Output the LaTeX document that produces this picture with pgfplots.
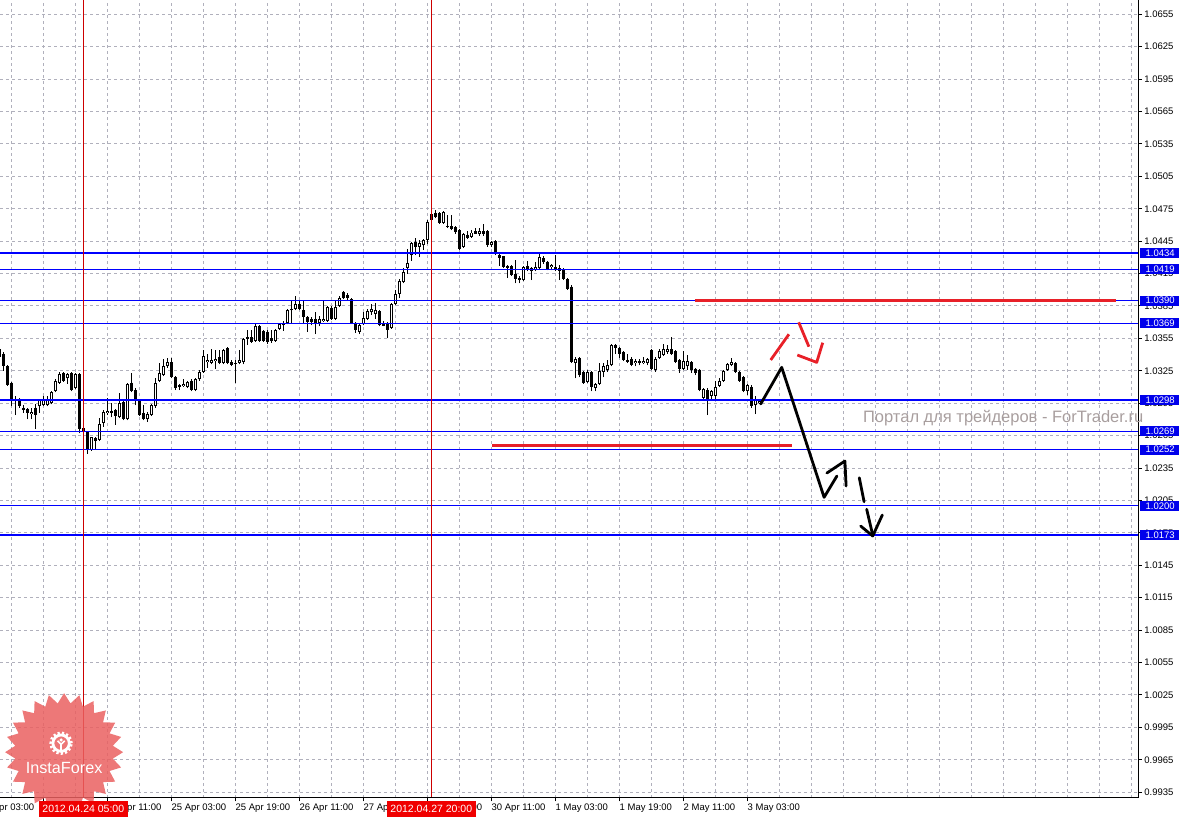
\documentclass[border=0pt]{standalone}
\usepackage{pgfplots}
\pgfplotsset{compat=1.18}
\usepackage{pgfplotstable}
\usepackage{fontspec}
\setmainfont{Liberation Sans}
\usetikzlibrary{shapes.geometric}

\definecolor{mtgrid}{RGB}{176,176,188}
\definecolor{mtblue}{RGB}{0,0,235}
\definecolor{lvlblue}{RGB}{0,0,255}
\definecolor{mtred}{RGB}{205,0,0}
\definecolor{boxred}{RGB}{240,0,0}
\definecolor{penred}{RGB}{232,32,40}
\definecolor{wmark}{RGB}{168,158,158}
\definecolor{logored}{RGB}{234,96,96}

% hourly bars: bar index, open, high, low, close
\pgfplotstableread{
b o h l c
-1 1.0345 1.0346 1.0336 1.0338
0 1.0341 1.0342 1.0325 1.0329
1 1.0329 1.0330 1.0311 1.0312
2 1.0314 1.0315 1.0292 1.0299
3 1.0299 1.0302 1.0284 1.0298
4 1.0299 1.0300 1.0291 1.0292
5 1.0291 1.0293 1.0286 1.0289
6 1.0290 1.0291 1.0280 1.0286
7 1.0285 1.0291 1.0280 1.0287
8 1.0291 1.0294 1.0271 1.0284
9 1.0292 1.0299 1.0286 1.0298
10 1.0293 1.0302 1.0292 1.0298
11 1.0293 1.0302 1.0292 1.0298
12 1.0295 1.0306 1.0294 1.0305
13 1.0306 1.0317 1.0305 1.0316
14 1.0314 1.0324 1.0313 1.0322
15 1.0323 1.0324 1.0315 1.0316
16 1.0318 1.0323 1.0313 1.0322
17 1.0323 1.0324 1.0306 1.0307
18 1.0309 1.0323 1.0308 1.0322
19 1.0322 1.0323 1.0267 1.0271
20 1.0272 1.0274 1.0250 1.0269
21 1.0268 1.0269 1.0248 1.0252
22 1.0252 1.0264 1.0251 1.0264
23 1.0263 1.0264 1.0252 1.0260
24 1.0261 1.0281 1.0260 1.0276
25 1.0277 1.0289 1.0273 1.0287
26 1.0286 1.0300 1.0284 1.0288
27 1.0288 1.0295 1.0282 1.0286
28 1.0289 1.0290 1.0275 1.0283
29 1.0282 1.0304 1.0281 1.0295
30 1.0296 1.0298 1.0279 1.0280
31 1.0280 1.0314 1.0279 1.0313
32 1.0314 1.0323 1.0305 1.0306
33 1.0307 1.0309 1.0293 1.0297
34 1.0297 1.0298 1.0283 1.0284
35 1.0286 1.0293 1.0279 1.0280
36 1.0280 1.0287 1.0278 1.0285
37 1.0284 1.0294 1.0283 1.0293
38 1.0292 1.0318 1.0291 1.0314
39 1.0316 1.0332 1.0315 1.0323
40 1.0321 1.0336 1.0320 1.0329
41 1.0329 1.0337 1.0328 1.0333
42 1.0333 1.0337 1.0318 1.0319
43 1.0319 1.0320 1.0307 1.0309
44 1.0312 1.0313 1.0307 1.0310
45 1.0311 1.0317 1.0310 1.0313
46 1.0310 1.0316 1.0309 1.0315
47 1.0316 1.0317 1.0306 1.0307
48 1.0307 1.0318 1.0306 1.0317
49 1.0317 1.0326 1.0316 1.0324
50 1.0324 1.0344 1.0323 1.0339
51 1.0333 1.0341 1.0328 1.0335
52 1.0332 1.0345 1.0331 1.0335
53 1.0334 1.0344 1.0327 1.0336
54 1.0338 1.0344 1.0331 1.0332
55 1.0332 1.0345 1.0331 1.0344
56 1.0346 1.0347 1.0331 1.0332
57 1.0333 1.0335 1.0329 1.0330
58 1.0332 1.0335 1.0314 1.0331
59 1.0332 1.0344 1.0331 1.0335
60 1.0333 1.0355 1.0331 1.0354
61 1.0356 1.0363 1.0349 1.0354
62 1.0356 1.0363 1.0351 1.0352
63 1.0353 1.0369 1.0352 1.0366
64 1.0366 1.0367 1.0352 1.0353
65 1.0362 1.0363 1.0352 1.0353
66 1.0361 1.0363 1.0350 1.0352
67 1.0355 1.0363 1.0351 1.0353
68 1.0353 1.0364 1.0352 1.0363
69 1.0364 1.0369 1.0363 1.0368
70 1.0367 1.0371 1.0362 1.0368
71 1.0369 1.0382 1.0368 1.0381
72 1.0381 1.0390 1.0369 1.0382
73 1.0382 1.0394 1.0381 1.0387
74 1.0387 1.0390 1.0381 1.0382
75 1.0381 1.0390 1.0369 1.0375
76 1.0375 1.0376 1.0361 1.0370
77 1.0373 1.0375 1.0367 1.0370
78 1.0373 1.0379 1.0359 1.0368
79 1.0369 1.0376 1.0366 1.0373
80 1.0371 1.0390 1.0370 1.0373
81 1.0371 1.0385 1.0370 1.0384
82 1.0383 1.0385 1.0372 1.0373
83 1.0373 1.0390 1.0372 1.0384
84 1.0385 1.0394 1.0384 1.0392
85 1.0398 1.0399 1.0391 1.0392
86 1.0395 1.0397 1.0390 1.0392
87 1.0391 1.0392 1.0369 1.0369
88 1.0369 1.0370 1.0360 1.0363
89 1.0361 1.0369 1.0359 1.0367
90 1.0368 1.0379 1.0367 1.0374
91 1.0373 1.0382 1.0372 1.0380
92 1.0379 1.0387 1.0377 1.0382
93 1.0378 1.0388 1.0373 1.0381
94 1.0380 1.0381 1.0366 1.0367
95 1.0369 1.0371 1.0366 1.0366
96 1.0369 1.0370 1.0355 1.0363
97 1.0365 1.0388 1.0364 1.0387
98 1.0387 1.0400 1.0386 1.0396
99 1.0396 1.0410 1.0392 1.0408
100 1.0407 1.0420 1.0406 1.0416
101 1.0420 1.0438 1.0415 1.0425
102 1.0432 1.0444 1.0427 1.0443
103 1.0444 1.0448 1.0432 1.0440
104 1.0440 1.0446 1.0430 1.0443
105 1.0441 1.0447 1.0437 1.0446
106 1.0446 1.0465 1.0442 1.0463
107 1.0465 1.0478 1.0464 1.0470
108 1.0471 1.0474 1.0466 1.0467
109 1.0471 1.0472 1.0461 1.0462
110 1.0462 1.0473 1.0461 1.0472
111 1.0459 1.0469 1.0457 1.0458
112 1.0459 1.0469 1.0455 1.0456
113 1.0458 1.0459 1.0452 1.0453
114 1.0455 1.0456 1.0437 1.0438
115 1.0440 1.0453 1.0439 1.0452
116 1.0451 1.0454 1.0447 1.0448
117 1.0449 1.0455 1.0448 1.0453
118 1.0454 1.0457 1.0452 1.0452
119 1.0452 1.0457 1.0450 1.0454
120 1.0454 1.0461 1.0450 1.0452
121 1.0454 1.0455 1.0440 1.0441
122 1.0441 1.0445 1.0440 1.0444
123 1.0445 1.0446 1.0432 1.0433
124 1.0432 1.0433 1.0422 1.0429
125 1.0431 1.0431 1.0420 1.0421
126 1.0422 1.0423 1.0411 1.0420
127 1.0422 1.0423 1.0413 1.0414
128 1.0415 1.0428 1.0406 1.0410
129 1.0411 1.0413 1.0406 1.0409
130 1.0409 1.0422 1.0408 1.0421
131 1.0422 1.0427 1.0417 1.0418
132 1.0417 1.0421 1.0409 1.0420
133 1.0418 1.0426 1.0417 1.0421
134 1.0420 1.0434 1.0419 1.0430
135 1.0429 1.0431 1.0424 1.0426
136 1.0426 1.0427 1.0418 1.0419
137 1.0421 1.0424 1.0418 1.0423
138 1.0421 1.0432 1.0417 1.0418
139 1.0420 1.0423 1.0409 1.0417
140 1.0419 1.0420 1.0409 1.0410
141 1.0410 1.0411 1.0400 1.0401
142 1.0403 1.0404 1.0332 1.0333
143 1.0332 1.0338 1.0318 1.0336
144 1.0337 1.0338 1.0319 1.0321
145 1.0324 1.0325 1.0313 1.0314
146 1.0315 1.0326 1.0314 1.0324
147 1.0324 1.0325 1.0306 1.0310
148 1.0309 1.0314 1.0306 1.0313
149 1.0313 1.0332 1.0312 1.0325
150 1.0324 1.0332 1.0319 1.0329
151 1.0326 1.0335 1.0324 1.0330
152 1.0330 1.0350 1.0329 1.0349
153 1.0349 1.0350 1.0341 1.0346
154 1.0346 1.0347 1.0337 1.0341
155 1.0342 1.0343 1.0334 1.0335
156 1.0335 1.0341 1.0332 1.0333
157 1.0336 1.0338 1.0329 1.0330
158 1.0332 1.0336 1.0329 1.0334
159 1.0334 1.0336 1.0330 1.0332
160 1.0332 1.0338 1.0331 1.0334
161 1.0332 1.0337 1.0330 1.0336
162 1.0344 1.0345 1.0326 1.0327
163 1.0326 1.0338 1.0324 1.0336
164 1.0337 1.0345 1.0336 1.0343
165 1.0340 1.0350 1.0339 1.0345
166 1.0342 1.0349 1.0341 1.0345
167 1.0345 1.0356 1.0340 1.0341
168 1.0343 1.0344 1.0332 1.0333
169 1.0335 1.0336 1.0323 1.0327
170 1.0327 1.0343 1.0326 1.0334
171 1.0329 1.0340 1.0326 1.0334
172 1.0333 1.0334 1.0323 1.0326
173 1.0327 1.0328 1.0321 1.0323
174 1.0326 1.0327 1.0306 1.0307
175 1.0300 1.0309 1.0298 1.0308
176 1.0307 1.0309 1.0284 1.0299
177 1.0302 1.0307 1.0299 1.0306
178 1.0302 1.0316 1.0299 1.0310
179 1.0311 1.0318 1.0310 1.0316
180 1.0316 1.0326 1.0315 1.0325
181 1.0326 1.0332 1.0325 1.0331
182 1.0330 1.0337 1.0329 1.0333
183 1.0332 1.0333 1.0323 1.0324
184 1.0324 1.0325 1.0315 1.0316
185 1.0319 1.0320 1.0305 1.0306
186 1.0306 1.0313 1.0303 1.0312
187 1.0310 1.0312 1.0291 1.0292
188 1.0293 1.0302 1.0285 1.0298
189 1.0295 1.0299 1.0294 1.0297
}\candles

\begin{document}
\begin{tikzpicture}
\begin{axis}[
  at={(0,0)}, anchor=north west,
  scale only axis, width=569.25pt, height=399pt,
  xmin=-0.825, xmax=283.8, ymin=0.99296, ymax=1.06682,
  clip=false,
  axis line style={draw=none},
  tick align=outside,
  major tick length=1.75pt, minor tick length=0pt,
  tick style={black, line width=0.5pt},
  xtick={10,26,...,186},
  xticklabels={23 Apr 19:00,24 Apr 11:00,25 Apr 03:00,25 Apr 19:00,26 Apr 11:00,27 Apr 03:00,27 Apr 19:00,30 Apr 11:00,1 May 03:00,1 May 19:00,2 May 11:00,3 May 03:00},
  minor xtick={2,10,...,282},
  ytick={0.9935,0.9965,0.9995,1.0025,1.0055,1.0085,1.0115,1.0145,1.0175,1.0205,1.0235,1.0265,1.0295,1.0325,1.0355,1.0385,1.0415,1.0445,1.0475,1.0505,1.0535,1.0565,1.0595,1.0625,1.0655},
  yticklabels={0.9935,0.9965,0.9995,1.0025,1.0055,1.0085,1.0115,1.0145,1.0175,1.0205,1.0235,1.0265,1.0295,1.0325,1.0355,1.0385,1.0415,1.0445,1.0475,1.0505,1.0535,1.0565,1.0595,1.0625,1.0655},
  xtick pos=left, ytick pos=right, yticklabel pos=right,
  xminorgrids, ymajorgrids, xmajorgrids=false,
  grid style={mtgrid, line width=0.5pt, dash pattern=on 1.5pt off 1.5pt},
  minor grid style={mtgrid, line width=0.5pt, dash pattern=on 1.5pt off 1.5pt},
  xticklabel style={font=\fontsize{4.75}{5}\selectfont, anchor=north west, inner sep=0pt, yshift=-1pt},
  yticklabel style={font=\fontsize{4.75}{5}\selectfont, anchor=west, inner sep=0pt, xshift=1pt},
]
  % candles: wicks, bodies, hollow part of rising bars
  \addplot[black, line width=0.5pt, quiver={u=0, v=\thisrow{h}-\thisrow{l}}]
    table[x=b, y=l] {\candles};
  \addplot[black, line width=1.5pt, quiver={u=0, v=\thisrow{c}-\thisrow{o}}]
    table[x=b, y=o] {\candles};
  \addplot[white, line width=0.5pt, unbounded coords=discard,
    quiver={u=0, v=\thisrow{c}-\thisrow{o}-0.000185}]
    table[x=b, y expr={\thisrow{c}-\thisrow{o}>0.00019 ? \thisrow{o}+0.0000926 : nan}] {\candles};

  % horizontal levels
  \pgfplotsinvokeforeach{1.0434,1.0419,1.0390,1.0369,1.0298,1.0269,1.0252,1.0200,1.0173}{
    \addplot[lvlblue, line width=0.6pt] coordinates {(-0.825,#1) (283.8,#1)};
  }
  % vertical markers
  \addplot[mtred, line width=0.5pt] coordinates {(20,0.99296) (20,1.06682)};
  \addplot[mtred, line width=0.5pt] coordinates {(107,0.99296) (107,1.06682)};

  % hand drawn red lines
  \addplot[penred, line width=1.5pt] coordinates {(172.9,1.0390) (278.1,1.0390)};
  \addplot[penred, line width=1.5pt] coordinates {(122.2,1.02557) (197.2,1.02557)};
  \addplot[penred, line width=1.4pt] coordinates {(191.85,1.03350) (196.4,1.03588)};
  \addplot[penred, line width=1.4pt] coordinates {(198.85,1.03699) (201.4,1.03473)};
  \addplot[penred, line width=1.4pt, line join=round] coordinates {(198.5,1.03396) (203.35,1.03328) (204.85,1.03510)};

  % hand drawn black path
  \addplot[black, line width=1.4pt, line join=round, line cap=round] coordinates {(189.35,1.02943) (194.6,1.03282) (205.2,1.02079) (208.4,1.02276)};
  \addplot[black, line width=1.4pt, line join=round, line cap=round] coordinates {(205.9,1.02304) (210.4,1.02415) (210.7,1.02184)};
  \addplot[black, line width=1.4pt, line cap=round] coordinates {(214,1.02260) (215.2,1.02038)};
  \addplot[black, line width=1.4pt, line cap=round] coordinates {(215.85,1.01968) (217.35,1.01730)};
  \addplot[black, line width=1.4pt, line join=round, line cap=round] coordinates {(214.35,1.01813) (217.35,1.01721) (219.75,1.01915)};

  \draw[black, line width=0.5pt] (rel axis cs:0,0) -- (rel axis cs:1,0) -- (rel axis cs:1,1);
  \node[font=\fontsize{4.75}{5}\selectfont, anchor=north west, inner sep=0pt, yshift=-2.75pt] at (axis cs:-6,0.99296) {23 Apr 03:00};

  \coordinate (b1) at (axis cs:283.8,1.0434);
  \coordinate (b2) at (axis cs:283.8,1.0419);
  \coordinate (b3) at (axis cs:283.8,1.0390);
  \coordinate (b4) at (axis cs:283.8,1.0369);
  \coordinate (b5) at (axis cs:283.8,1.0298);
  \coordinate (b6) at (axis cs:283.8,1.0269);
  \coordinate (b7) at (axis cs:283.8,1.0252);
  \coordinate (b8) at (axis cs:283.8,1.0200);
  \coordinate (b9) at (axis cs:283.8,1.0173);
  \coordinate (r1) at (axis cs:20,0.99296);
  \coordinate (r2) at (axis cs:107,0.99296);
  \coordinate (logo) at (axis cs:15.2,0.99720);
  \coordinate (wm) at (axis cs:214.85,1.02813);
\end{axis}

% level price tags
\foreach \n/\v in {b1/1.0434,b2/1.0419,b3/1.0390,b4/1.0369,b5/1.0298,b6/1.0269,b7/1.0252,b8/1.0200,b9/1.0173}{
  \node[fill=mtblue, text=white, anchor=west, inner xsep=2.6pt, inner ysep=0pt, minimum height=5pt,
        font=\fontsize{4.75}{5}\selectfont] at ([xshift=0.75pt]\n) {\v};
}

% watermark
\node[anchor=west, text=wmark, inner sep=0pt, font=\fontsize{8.25}{9}\selectfont] at (wm) {Портал для трейдеров - ForTrader.ru};

% InstaForex badge
\node[star, star points=24, star point ratio=1.2, minimum size=59pt, inner sep=0pt,
      fill=logored, fill opacity=0.85] at (logo) {};
\begin{scope}[shift={([xshift=-1.5pt, yshift=4.5pt]logo)}]
  \draw[white, line width=1.4pt] (0,0) circle (4.1pt);
  \draw[white, line width=1.3pt, dash pattern=on 1.1pt off 1.1pt] (0,0) circle (5.2pt);
  \fill[white] (0,1.6pt) circle (0.9pt);
  \draw[white, line width=0.8pt] (-1.8pt,1.2pt) -- (0,-0.6pt) -- (1.8pt,1.2pt);
  \draw[white, line width=0.8pt] (0,-0.6pt) -- (0,-3.2pt);
\end{scope}
\node[text=white, inner sep=0pt, font=\fontsize{8.1}{9}\selectfont] at ([yshift=-8pt]logo) {InstaForex};

% highlighted time tags
\node[fill=boxred, text=white, anchor=north, inner xsep=1.75pt, inner ysep=0pt, minimum height=8.2pt,
      font=\fontsize{5.25}{6}\selectfont] at ([yshift=-1.35pt]r1) {2012.04.24 05:00};
\node[fill=boxred, text=white, anchor=north, inner xsep=1.75pt, inner ysep=0pt, minimum height=8.2pt,
      font=\fontsize{5.25}{6}\selectfont] at ([yshift=-1.35pt]r2) {2012.04.27 20:00};

\pgfresetboundingbox
\useasboundingbox (0,0) rectangle (589.5pt,-408.5pt);
\end{tikzpicture}
\end{document}
